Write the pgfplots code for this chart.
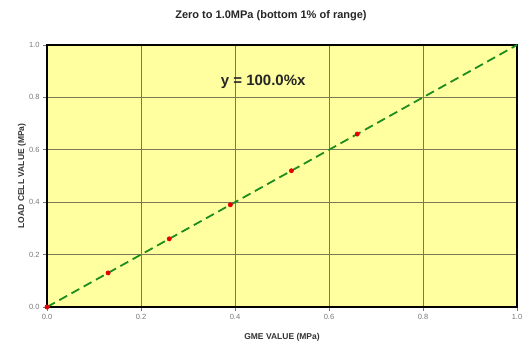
\documentclass[border=0pt]{standalone}
\usepackage{pgfplots}
\pgfplotsset{compat=1.18}
\usepackage{fontspec}
\setmainfont{Liberation Sans}
\definecolor{bgyel}{RGB}{255,255,160}
\definecolor{gridc}{RGB}{125,120,90}
\definecolor{lgreen}{RGB}{30,140,30}
\definecolor{tickc}{RGB}{120,120,120}
\begin{document}
\begin{tikzpicture}[x=1pt,y=1pt]
\begin{axis}[
  at={(47pt,43pt)}, anchor=south west,
  scale only axis, width=470pt, height=262pt,
  xmin=0, xmax=1, ymin=0, ymax=1,
  xtick={0,0.2,0.4,0.6,0.8,1.0}, ytick={0,0.2,0.4,0.6,0.8,1.0},
  xticklabel style={/pgf/number format/.cd,fixed,fixed zerofill,precision=1},
  yticklabel style={/pgf/number format/.cd,fixed,fixed zerofill,precision=1},
  /pgf/number format/assume math mode=true,
  ticklabel style={font=\fontsize{7.5}{8}\selectfont, text=tickc},
  tick style={tickc, line width=0.6pt},
  tick align=outside, major tick length=4pt,
  xtick pos=bottom, ytick pos=left,
  axis background/.style={fill=bgyel},
  axis line style={black, line width=1.8pt},
  grid=major, major grid style={gridc, line width=0.8pt},
  xlabel={\textbf{GME VALUE (MPa)}},
  ylabel={\textbf{LOAD CELL VALUE (MPa)}},
  label style={font=\fontsize{8.5}{9}\selectfont, text=black!80},
  xlabel style={at={(axis description cs:0.5,0)}, anchor=center, yshift=-30pt},
  ylabel style={at={(axis description cs:0,0.5)}, anchor=center, yshift=25pt},
  clip=false,
]
\addplot[lgreen, line width=1.8pt, dash pattern=on 9pt off 5pt] coordinates {(0,0) (1,1)};
\addplot[only marks, mark=*, mark size=2.2pt, red!90!black, mark options={draw=none, fill=red!90!black}]
  coordinates {(0,0) (0.13,0.13) (0.26,0.26) (0.39,0.39) (0.52,0.52) (0.66,0.66)};
\node[font=\bfseries\fontsize{15}{17}\selectfont, text=black!85] at (axis cs:0.46,0.86) {y = 100.0\%x};
\end{axis}
\node[font=\bfseries\fontsize{11}{13}\selectfont, text=black!85] at (271,334) {Zero to 1.0MPa (bottom 1\% of range)};
\pgfresetboundingbox
\useasboundingbox (0,0) rectangle (523,350);
\end{tikzpicture}
\end{document}
